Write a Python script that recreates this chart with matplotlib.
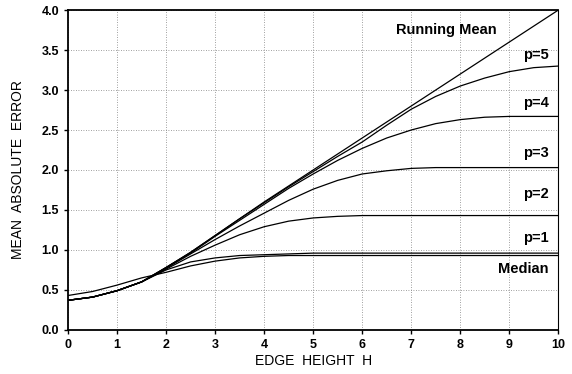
import matplotlib.pyplot as plt

# edge height H, sampled every 0.5
edge_height = [0.0, 0.5, 1.0, 1.5, 2.0, 2.5, 3.0, 3.5, 4.0, 4.5, 5.0,
               5.5, 6.0, 6.5, 7.0, 7.5, 8.0, 8.5, 9.0, 9.5, 10.0]

running_mean = [0.37, 0.41, 0.49, 0.60, 0.78, 0.97, 1.18, 1.39, 1.60, 1.80, 2.00,
                2.20, 2.40, 2.60, 2.80, 3.00, 3.20, 3.40, 3.60, 3.80, 4.00]
p5 = [0.37, 0.41, 0.49, 0.60, 0.78, 0.97, 1.18, 1.39, 1.59, 1.79, 1.98,
      2.17, 2.35, 2.56, 2.76, 2.92, 3.05, 3.15, 3.23, 3.28, 3.30]
p4 = [0.37, 0.41, 0.49, 0.60, 0.78, 0.96, 1.17, 1.37, 1.57, 1.77, 1.95,
      2.12, 2.27, 2.40, 2.50, 2.58, 2.63, 2.66, 2.67, 2.67, 2.67]
p3 = [0.37, 0.41, 0.49, 0.60, 0.77, 0.95, 1.13, 1.30, 1.46, 1.62, 1.76,
      1.87, 1.95, 1.99, 2.02, 2.03, 2.03, 2.03, 2.03, 2.03, 2.03]
p2 = [0.37, 0.41, 0.49, 0.60, 0.76, 0.92, 1.06, 1.19, 1.29, 1.36, 1.40,
      1.42, 1.43, 1.43, 1.43, 1.43, 1.43, 1.43, 1.43, 1.43, 1.43]
p1 = [0.37, 0.41, 0.49, 0.60, 0.75, 0.85, 0.90, 0.93, 0.94, 0.95, 0.96,
      0.96, 0.96, 0.96, 0.96, 0.96, 0.96, 0.96, 0.96, 0.96, 0.96]
median = [0.43, 0.48, 0.56, 0.65, 0.72, 0.80, 0.86, 0.90, 0.92, 0.93, 0.93,
          0.93, 0.93, 0.93, 0.93, 0.93, 0.93, 0.93, 0.93, 0.93, 0.93]

series = [running_mean, p5, p4, p3, p2, p1, median]
labels = ['Running Mean', 'p=5', 'p=4', 'p=3', 'p=2', 'p=1', 'Median']
label_x = [8.75, 9.8, 9.8, 9.8, 9.8, 9.8, 9.8]
label_y = [3.75, 3.44, 2.84, 2.21, 1.70, 1.15, 0.76]

plt.rcParams['font.family'] = ['Liberation Sans', 'DejaVu Sans']

fig = plt.figure(figsize=(5.72, 3.74), dpi=100)
ax = fig.add_axes([0.119, 0.118, 0.857, 0.855])

for ys in series:
    ax.plot(edge_height, ys, color='black', linewidth=0.9)

for txt, tx, ty in zip(labels, label_x, label_y):
    ax.text(tx, ty, txt, ha='right', va='center', fontsize=10.5, fontweight='bold')

ax.set_xlim(0, 10)
ax.set_ylim(0, 4)
ax.set_xticks(range(0, 11))
ax.set_yticks([i * 0.5 for i in range(9)])
ax.set_yticklabels([f'{i * 0.5:.1f}' for i in range(9)])
ax.grid(True, linestyle=(0, (1, 2)), color='gray', linewidth=0.6)
ax.tick_params(labelsize=9, length=3, width=1)
for lab in ax.get_xticklabels() + ax.get_yticklabels():
    lab.set_fontweight('bold')

for side in ['left', 'bottom', 'top']:
    ax.spines[side].set_linewidth(1.3)
ax.spines['right'].set_linewidth(0.8)

ax.set_xlabel('EDGE  HEIGHT  H', fontsize=10, labelpad=2)
ax.set_ylabel('MEAN  ABSOLUTE  ERROR', fontsize=10, labelpad=12)

plt.savefig('out.png', dpi=100)
